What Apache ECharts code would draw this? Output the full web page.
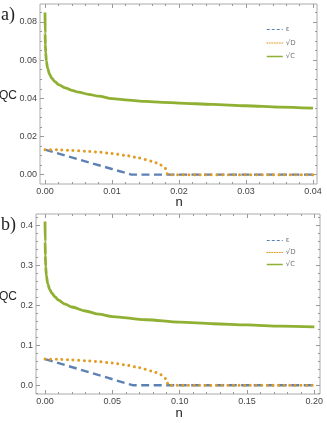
<!DOCTYPE html>
<html>
<head>
<meta charset="utf-8">
<script src="https://cdn.jsdelivr.net/npm/echarts@6/dist/echarts.min.js"></script>
<style>
  html, body { margin: 0; padding: 0; background: #fff; }
  #chart { width: 327px; height: 423px; }
</style>
</head>
<body>
<div id="chart"></div>
<script>
// panel a)
var nTopC = [0, 0.00002, 0.00005, 0.0001, 0.0002, 0.0004, 0.0007, 0.001, 0.0015, 0.002, 0.003, 0.004, 0.005, 0.0065, 0.008, 0.01, 0.0125, 0.015, 0.0175, 0.02, 0.025, 0.03, 0.035, 0.04];
var cTop  = [0.085, 0.074, 0.068, 0.064, 0.0595, 0.0555, 0.0525, 0.0505, 0.0487, 0.0472, 0.0455, 0.0442, 0.0432, 0.0421, 0.0411, 0.0398, 0.0390, 0.0384, 0.0379, 0.0375, 0.0368, 0.0361, 0.0354, 0.0348];
var nTopE = [0, 0.0129, 0.04];
var eTop  = [0.0131, 0, 0];
var nTopD = [0, 0.002, 0.004, 0.006, 0.008, 0.010, 0.012, 0.014, 0.016, 0.017, 0.018, 0.0183, 0.04];
var dTop  = [0.0131, 0.0130, 0.0127, 0.0123, 0.0118, 0.0111, 0.0101, 0.0088, 0.0070, 0.0057, 0.0032, 0, 0];
var xTicksTop = [0, 0.01, 0.02, 0.03, 0.04];
var yTicksTop = [0, 0.02, 0.04, 0.06, 0.08];

// panel b)
var nBotC = [0, 0.0001, 0.00025, 0.0005, 0.001, 0.002, 0.0035, 0.005, 0.0075, 0.01, 0.015, 0.02, 0.03, 0.04, 0.05, 0.075, 0.1, 0.125, 0.15, 0.175, 0.2];
var cBot  = [0.41, 0.36, 0.325, 0.298, 0.275, 0.254, 0.24, 0.231, 0.221, 0.213, 0.203, 0.196, 0.186, 0.178, 0.172, 0.164, 0.158, 0.154, 0.151, 0.148, 0.146];
var nBotE = [0, 0.065, 0.2];
var eBot  = [0.0655, 0, 0];
var nBotD = [0, 0.01, 0.02, 0.03, 0.04, 0.05, 0.06, 0.07, 0.08, 0.085, 0.09, 0.0915, 0.2];
var dBot  = [0.0655, 0.065, 0.0635, 0.0615, 0.059, 0.0555, 0.0505, 0.044, 0.035, 0.0285, 0.016, 0, 0];
var xTicksBot = [0, 0.05, 0.10, 0.15, 0.20];
var yTicksBot = [0, 0.1, 0.2, 0.3, 0.4];

var names = ['\u03b5', '\u221aD', '\u221aC'];
var colors = ['#5E81B5', '#E19C24', '#8FB032'];

function zip(xs, ys) {
    return xs.map(function (x, i) { return [x, ys[i]]; });
}

function minorsFor(min, max, step) {
    var out = [];
    var k = Math.ceil(min / step - 1e-9);
    for (; k * step <= max + 1e-12; k++) out.push(+(k * step).toFixed(6));
    return out;
}

// four axes per dimension: main (labels), minor, mirrored major, mirrored minor
function makeAxes(grid, min, max, majors, minorStep, digits, pos, opp) {
    var minors = minorsFor(min, max, minorStep);
    function base(p, vals, len, labels) {
        return {
            type: 'value', gridIndex: grid, min: min, max: max, position: p,
            axisLine: { show: false, onZero: false },
            splitLine: { show: false },
            axisTick: { show: true, inside: true, length: len, customValues: vals,
                        lineStyle: { color: '#999', width: 1 } },
            axisLabel: labels ? {
                show: true, customValues: majors, fontSize: 9, color: '#444',
                fontFamily: 'Liberation Sans, Arial, sans-serif', margin: 3,
                formatter: function (v) { return v.toFixed(digits); }
            } : { show: false }
        };
    }
    return [
        base(pos, majors, 4, true),
        base(pos, minors, 2, false),
        base(opp, majors, 4, false),
        base(opp, minors, 2, false)
    ];
}

var xAxes = [].concat(
    makeAxes(0, -0.00075, 0.0406, xTicksTop, 0.002, 2, 'bottom', 'top'),
    makeAxes(1, -0.0067, 0.2042, xTicksBot, 0.01, 2, 'bottom', 'top')
);
var yAxes = [].concat(
    makeAxes(0, -0.0049, 0.0894, yTicksTop, 0.005, 2, 'left', 'right'),
    makeAxes(1, -0.022, 0.429, yTicksBot, 0.02, 1, 'left', 'right')
);

function lineSeries(idx, axisIdx, data) {
    var ls = { color: colors[idx], width: 2.8 };
    if (idx === 0) { ls.type = [8, 4.5]; ls.width = 2.4; }
    if (idx === 1) { ls.type = [0.01, 5.6]; ls.width = 3; ls.cap = 'round'; }
    return {
        name: names[idx], type: 'line', xAxisIndex: axisIdx, yAxisIndex: axisIdx,
        data: data, symbol: 'none', showSymbol: false, animation: false,
        smooth: idx === 2 ? 0.3 : (idx === 1 ? 0.2 : false), smoothMonotone: 'x',
        lineStyle: ls, itemStyle: { color: colors[idx] }
    };
}

var labelFont = 'Liberation Sans, Arial, sans-serif';
function txt(x, y, s, size, family, align) {
    return { type: 'text', x: x, y: y,
        style: { text: s, fontSize: size, fontFamily: family, fill: '#222',
                 align: align || 'center', verticalAlign: 'middle' } };
}

var legendLines = [
    { type: [3, 2], width: 1 },
    { type: [1, 1.5], width: 1 },
    { type: 'solid', width: 1.5 }
];

function legendAt(top, gap) {
    return {
        orient: 'vertical', left: 261, top: top, itemWidth: 16, itemHeight: 6,
        itemGap: gap, selectedMode: false,
        data: names.map(function (n, i) { return { name: n, lineStyle: legendLines[i] }; }),
        itemStyle: { opacity: 0 },
        textStyle: { fontSize: 7, color: '#777', fontFamily: 'DejaVu Sans, sans-serif', padding: [0, 0, 0, -2] }
    };
}

var chart = echarts.init(document.getElementById('chart'), null, { renderer: 'canvas' });
chart.setOption({
    backgroundColor: '#fff',
    animation: false,
    grid: [
        { left: 40, right: 10, top: 4, height: 180, show: true, borderColor: '#aaa', borderWidth: 1, backgroundColor: 'transparent' },
        { left: 36, right: 7, top: 214, height: 180, show: true, borderColor: '#aaa', borderWidth: 1, backgroundColor: 'transparent' }
    ],
    legend: [legendAt(21, 6.5), legendAt(232, 5)],
    xAxis: xAxes,
    yAxis: yAxes,
    series: [
        lineSeries(0, 0, zip(nTopE, eTop)),
        lineSeries(1, 0, zip(nTopD, dTop)),
        lineSeries(2, 0, zip(nTopC, cTop)),
        lineSeries(0, 4, zip(nBotE, eBot)),
        lineSeries(1, 4, zip(nBotD, dBot)),
        lineSeries(2, 4, zip(nBotC, cBot))
    ],
    graphic: [
        txt(1, 15, 'a)', 18, 'Liberation Serif, Times New Roman, serif', 'left'),
        txt(1, 225, 'b)', 18, 'Liberation Serif, Times New Roman, serif', 'left'),
        txt(8, 96, 'QC', 12, labelFont),
        txt(8, 297, 'QC', 12, labelFont),
        txt(179, 202, 'n', 13, labelFont),
        txt(179, 413, 'n', 13, labelFont)
    ]
});
</script>
</body>
</html>
